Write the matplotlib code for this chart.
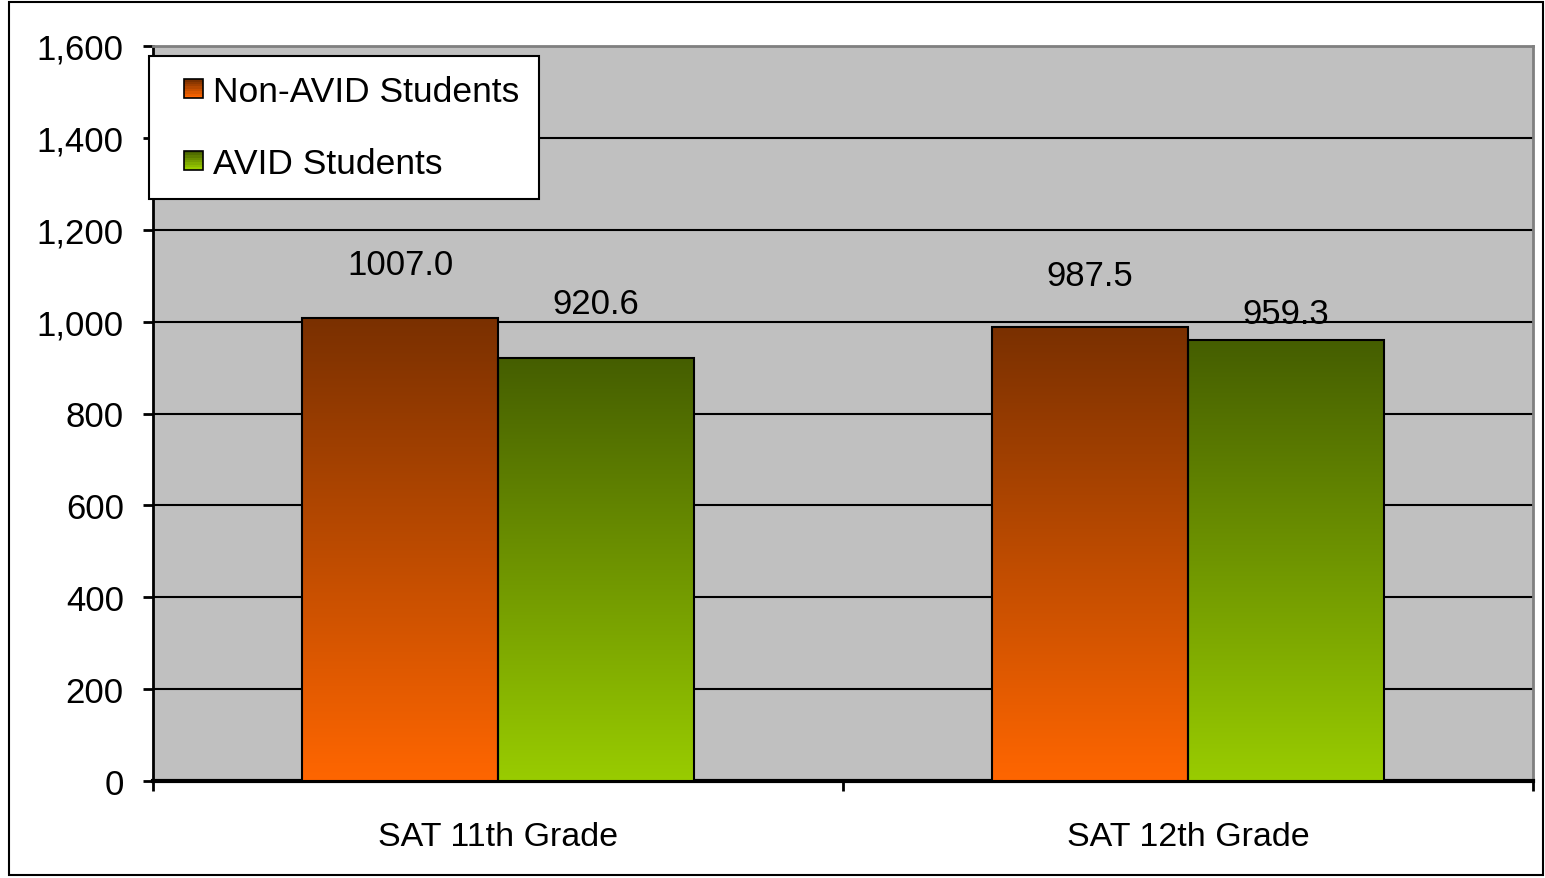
import matplotlib
matplotlib.use("Agg")
import matplotlib.pyplot as plt
import numpy as np
from matplotlib.colors import LinearSegmentedColormap
from matplotlib.legend_handler import HandlerBase
from matplotlib.patches import Rectangle

plt.rcParams["font.family"] = ["Liberation Sans", "DejaVu Sans"]

# data
categories = ["SAT 11th Grade", "SAT 12th Grade"]
series_names = ["Non-AVID Students", "AVID Students"]
non_avid = [1007.0, 987.5]
avid = [920.6, 959.3]
label_text_non = ["1007.0", "987.5"]
label_text_avid = ["920.6", "959.3"]

# gradients: (top colour, bottom colour)
grad_non = ("#7a3000", "#ff6600")
grad_avid = ("#455e00", "#99cc00")

bar_w = 0.284
# label lift above bar tops, in points (the original places them unevenly)
lift_non = [39, 37]
lift_avid = [39, 19]


def make_cmap(top, bottom):
    return LinearSegmentedColormap.from_list("g", [bottom, top])


# Draw one bar with a vertical gradient clipped to its rectangle.
def gradient_bar(ax, x, h, colors):
    bar = ax.bar(x, h, width=bar_w, facecolor="none", edgecolor="black",
                 linewidth=1.5, zorder=4)[0]
    grad = np.linspace(0, 1, 256).reshape(-1, 1)
    im = ax.imshow(grad, cmap=make_cmap(*colors), origin="lower", aspect="auto",
                   extent=(x - bar_w / 2, x + bar_w / 2, 0, h), zorder=3,
                   interpolation="bilinear")
    im.set_clip_path(bar)
    return bar


# Legend key: small gradient square sitting at the right of the handle box.
class GradientHandler(HandlerBase):
    def __init__(self, colors, n=8):
        super().__init__()
        self.colors = colors
        self.n = n

    def create_artists(self, legend, orig_handle, xdescent, ydescent, width,
                       height, fontsize, trans):
        cmap = make_cmap(*self.colors)
        side = height
        x0 = -xdescent + width - side
        y0 = -ydescent
        arts = []
        step = side / self.n
        for i in range(self.n):
            arts.append(Rectangle((x0, y0 + i * step), side, step,
                                  facecolor=cmap(i / (self.n - 1)),
                                  edgecolor="none", transform=trans))
        arts.append(Rectangle((x0, y0), side, side, facecolor="none",
                              edgecolor="black", linewidth=1.2, transform=trans))
        return arts


fig = plt.figure(figsize=(15.45, 8.79), dpi=100)
fig.patches.append(Rectangle((9 / 1545, 3 / 879), 1534 / 1545, 873 / 879,
                             transform=fig.transFigure, facecolor="none",
                             edgecolor="black", linewidth=1.5))

ax = fig.add_axes([153 / 1545, 1 - 782 / 879, 1380 / 1545, 735 / 879])
ax.set_facecolor("#c0c0c0")

x = np.arange(len(categories))
for i in range(len(categories)):
    gradient_bar(ax, x[i] - bar_w / 2, non_avid[i], grad_non)
    gradient_bar(ax, x[i] + bar_w / 2, avid[i], grad_avid)

for i in range(len(categories)):
    ax.annotate(label_text_non[i], (x[i] - bar_w / 2, non_avid[i]),
                xytext=(0, lift_non[i]), textcoords="offset points",
                ha="center", va="center", fontsize=25, zorder=6)
    ax.annotate(label_text_avid[i], (x[i] + bar_w / 2, avid[i]),
                xytext=(0, lift_avid[i]), textcoords="offset points",
                ha="center", va="center", fontsize=25, zorder=6)

ax.set_xlim(-0.5, len(categories) - 0.5)
ax.set_ylim(0, 1600)
ax.set_yticks(np.arange(0, 1601, 200))
ax.yaxis.set_major_formatter(matplotlib.ticker.FuncFormatter(lambda v, p: f"{v:,.0f}"))
ax.yaxis.grid(True, color="black", linewidth=1.5, zorder=1)
ax.set_axisbelow(True)

ax.set_xticks(x)
ax.set_xticklabels(categories)
ax.set_xticks(np.arange(-0.5, len(categories), 1.0), minor=True)
ax.tick_params(axis="x", which="major", length=0, pad=29, labelsize=24.5)
ax.tick_params(axis="x", which="minor", length=7, width=2, direction="out")
ax.tick_params(axis="y", length=7, width=2, direction="out", pad=14, labelsize=25)

for side in ["top", "right"]:
    ax.spines[side].set_color("#808080")
    ax.spines[side].set_linewidth(2)
ax.spines["left"].set_linewidth(2)
ax.spines["bottom"].set_linewidth(3)

handles = [Rectangle((0, 0), 1, 1), Rectangle((0, 0), 1, 1)]
leg = ax.legend(handles, series_names,
                handler_map={handles[0]: GradientHandler(grad_non),
                             handles[1]: GradientHandler(grad_avid)},
                loc="upper left",
                bbox_to_anchor=(149 / 1545, 1 - 57 / 879),
                bbox_transform=fig.transFigure,
                fontsize=25.5, frameon=True, fancybox=False, framealpha=1,
                edgecolor="black", borderpad=0.55, labelspacing=1.08,
                handlelength=0.97, handleheight=0.45, handletextpad=0.3,
                borderaxespad=0)
leg.get_frame().set_linewidth(1.5)
leg.set_zorder(10)

fig.savefig("out.png", dpi=100)
